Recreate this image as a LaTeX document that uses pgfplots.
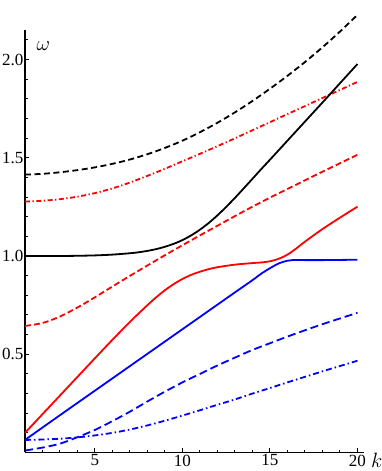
\documentclass[border=0pt]{standalone}
\usepackage{fontspec}
\setmainfont{Liberation Serif}
\usepackage{pgfplots}
\pgfplotsset{compat=1.18}

\begin{document}
\fontsize{17}{20}\selectfont
\begin{tikzpicture}
\begin{axis}[
  scale only axis, width=338.6pt, height=422.5pt,
  xmin=1, xmax=20.35, ymin=0, ymax=2.15,
  axis lines=left, axis line style={-, line width=1.3pt},
  clip=false,
  xtick={5,10,15,20}, ytick={0.5,1.0,1.5,2.0},
  minor xtick={2,3,4,6,7,8,9,11,12,13,14,16,17,18,19},
  minor ytick={0.1,0.2,0.3,0.4,0.6,0.7,0.8,0.9,1.1,1.2,1.3,1.4,1.6,1.7,1.8,1.9,2.1},
  tick align=inside, major tick length=4.5pt, minor tick length=2.8pt,
  tick style={black, line width=1pt},
  yticklabel style={/pgf/number format/.cd, fixed, fixed zerofill, precision=1, /tikz/.cd, inner sep=1.5pt},
  xticklabel style={inner sep=2pt},
  /pgf/number format/assume math mode=true,
  ticklabel style={font=\fontsize{17}{20}\selectfont},
  every axis plot/.append style={line width=1.8pt, smooth},
]
% black dashed
\addplot[black, dash pattern=on 6pt off 3.5pt] coordinates {
(1,1.414)(2,1.418)(3,1.426)(4,1.437)(5,1.451)(6,1.469)(7,1.491)(8,1.518)(9,1.550)(10,1.587)
(11,1.630)(12,1.678)(13,1.731)(14,1.789)(15,1.851)(16,1.917)(17,1.987)(18,2.062)(19,2.142)(20,2.227)};
% red dash-dot
\addplot[red, dash pattern=on 5pt off 2.5pt on 1.3pt off 2.5pt] coordinates {
(1,1.277)(2,1.281)(3,1.289)(4,1.302)(5,1.320)(6,1.344)(7,1.374)(8,1.408)(9,1.444)(10,1.482)
(11,1.520)(12,1.559)(13,1.599)(14,1.640)(15,1.681)(16,1.722)(17,1.763)(18,1.804)(19,1.845)(20,1.886)};
% black solid
\addplot[black] coordinates {
(1,1.0)(3,1.0)(4,1.001)(5,1.003)(6,1.007)(7,1.014)(7.5,1.019)(8,1.026)(8.5,1.035)(9,1.047)
(9.5,1.062)(10,1.081)(10.5,1.105)(11,1.134)(11.5,1.168)(12,1.207)(12.5,1.250)(13,1.296)
(13.5,1.344)(14,1.393)(14.5,1.442)(15,1.49)(16,1.587)(17,1.684)(18,1.781)(19,1.879)(20,1.977)};
% red dashed
\addplot[red, dash pattern=on 6pt off 3pt] coordinates {
(1,0.644)(2,0.659)(3,0.692)(4,0.738)(5,0.790)(6,0.845)(7,0.899)(8,0.952)(9,1.004)(10,1.055)
(11,1.105)(12,1.154)(13,1.203)(14,1.251)(15,1.297)(16,1.341)(17,1.385)(18,1.429)(19,1.472)(20,1.515)};
% red solid
\addplot[red] coordinates {
(1,0.1)(2,0.195)(3,0.29)(4,0.385)(5,0.48)(6,0.574)(7,0.665)(7.5,0.708)(8,0.75)(8.5,0.79)
(9,0.826)(9.5,0.857)(10,0.883)(10.5,0.904)(11,0.92)(11.5,0.933)(12,0.943)(13,0.956)(14,0.964)
(14.5,0.967)(15,0.973)(15.5,0.986)(16,1.007)(16.5,1.038)(17,1.073)(18,1.137)(19,1.195)(20,1.251)};
% blue solid
\addplot[blue] coordinates {
(1,0.064)(3,0.19)(5,0.315)(7,0.44)(9,0.565)(11,0.69)(13,0.815)(14,0.877)(14.5,0.91)(15,0.938)
(15.5,0.962)(16,0.976)(16.5,0.98)(17,0.979)(18,0.979)(20,0.981)};
% blue dashed
\addplot[blue, dash pattern=on 8pt off 4pt] coordinates {
(1,0.01)(2,0.025)(3,0.045)(4,0.078)(5,0.115)(6,0.16)(7,0.208)(8,0.26)(9,0.31)(10,0.357)
(11,0.40)(12,0.443)(13,0.483)(14,0.522)(15,0.556)(16,0.59)(17,0.622)(18,0.653)(19,0.682)(20,0.711)};
% blue dash-dot
\addplot[blue, dash pattern=on 6pt off 3pt on 1.5pt off 3pt] coordinates {
(1,0.064)(2,0.066)(3,0.07)(4,0.077)(5,0.087)(6,0.1)(7,0.117)(8,0.138)(9,0.162)(10,0.188)
(11,0.215)(12,0.243)(13,0.27)(14,0.3)(15,0.328)(16,0.357)(17,0.385)(18,0.413)(19,0.44)(20,0.467)};
\node[font=\fontsize{21}{24}\selectfont] at (axis cs:2.05,2.07) {$\omega$};
\node[font=\fontsize{20}{24}\selectfont] at (axis cs:21.1,-0.04) {$k$};
\end{axis}
\pgfresetboundingbox
\path ([xshift=-25pt,yshift=-18.5pt]current axis.south west) rectangle ([xshift=17.4pt,yshift=30pt]current axis.north east);
\end{tikzpicture}
\end{document}
